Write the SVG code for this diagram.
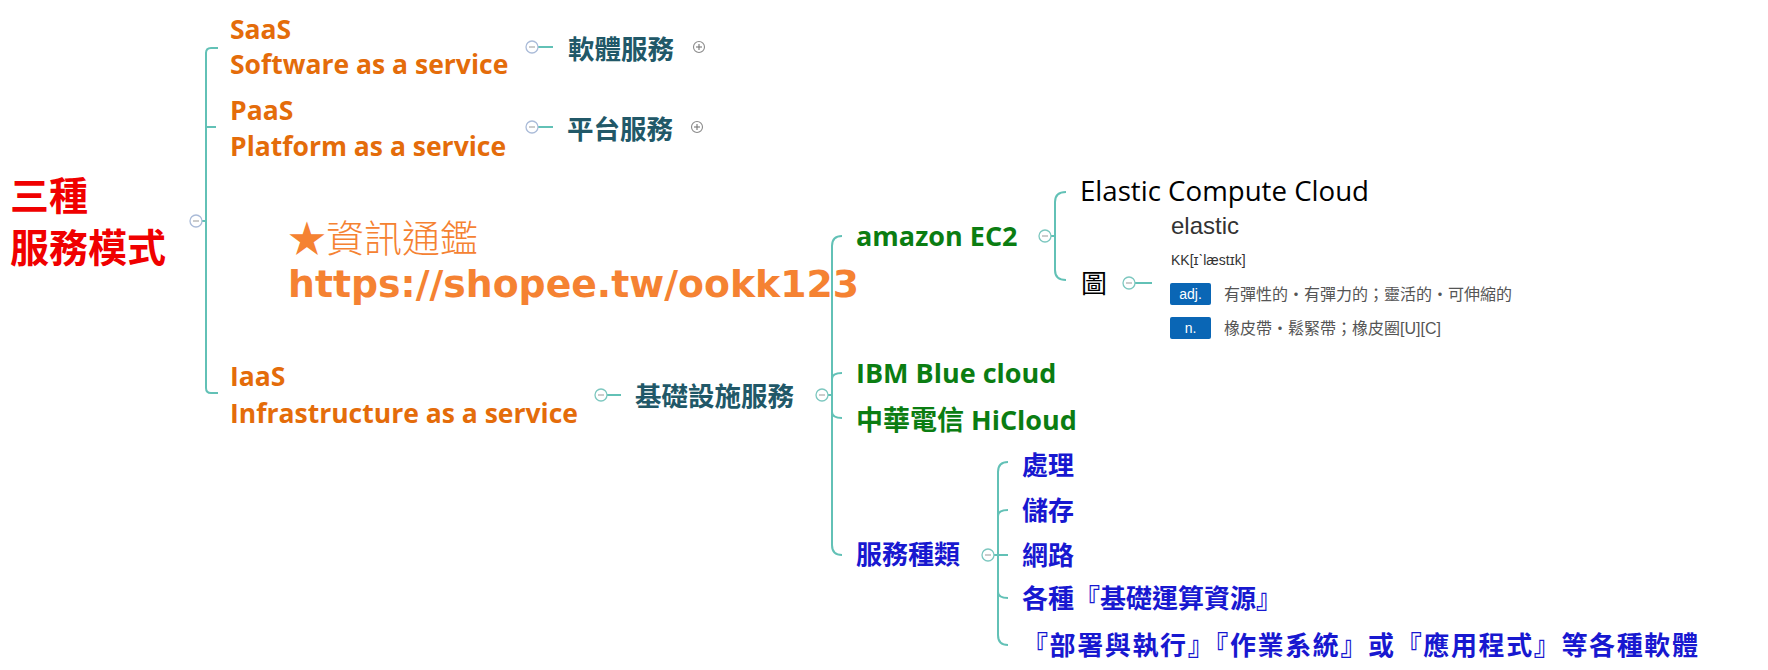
<svg xmlns="http://www.w3.org/2000/svg" width="1768" height="670" viewBox="0 0 1768 670">
<style>
.bg{fill:#ffffff}
.ln{fill:none;stroke:#62c1b6;stroke-width:2}
.cc{fill:#ffffff;stroke:#7cc7bf;stroke-width:1.3}
.cr{fill:#ffffff;stroke:#aabbd8;stroke-width:1.3}
.mn{stroke:#b0b0b0;stroke-width:1.3}
.pc{fill:#ffffff;stroke:#8a8a8a;stroke-width:1.1}
.pl{stroke:#777;stroke-width:1.1}
.root{font-family:"Noto Sans CJK TC",sans-serif;font-weight:700;font-size:39px;fill:#f00000}
.or{font-family:"Open Sans","Noto Sans CJK TC",sans-serif;font-weight:700;font-size:26.5px;fill:#e46c0a}
.tl{font-family:"Noto Sans CJK TC",sans-serif;font-weight:700;font-size:26.5px;fill:#215868}
.gr{font-family:"Open Sans","Noto Sans CJK TC",sans-serif;font-weight:700;font-size:27px;fill:#0b7d12}
.bl{font-family:"Noto Sans CJK TC",sans-serif;font-weight:700;font-size:26px;fill:#1818d0}
.bk{font-family:"Open Sans","Noto Sans CJK TC",sans-serif;font-size:27px;fill:#000}
.wm1{font-family:"Noto Sans CJK TC",sans-serif;font-weight:300;font-size:38px;fill:#f58232}
.wm2{font-family:"DejaVu Sans",sans-serif;font-weight:700;font-size:38px;fill:#f58232}
.d1{font-family:"Liberation Sans","Noto Sans CJK TC",sans-serif;fill:#333}
.d2{font-family:"Liberation Sans","Noto Sans CJK TC",sans-serif;font-size:16px;fill:#555}
.box{fill:#0a66b5}
.bt{font-family:"Liberation Sans",sans-serif;font-size:14px;fill:#fff;text-anchor:middle}
</style>
<rect class="bg" width="1768" height="670"/>
<g id="connectors">
  <path class="ln" d="M202,221 H206"/>
  <path class="ln" d="M218,48 H211 Q206,48 206,53 V388 Q206,393 211,393 H218"/>
  <path class="ln" d="M206,127 H216"/>
  <path class="ln" d="M538,47 H553"/>
  <path class="ln" d="M538,127 H553"/>
  <path class="ln" d="M607,395 H621"/>
  <path class="ln" d="M828,395 H832"/>
  <path class="ln" d="M842,236 Q832,236 832,246 V545 Q832,555 842,555"/>
  <path class="ln" d="M832,379 Q832,373 842,373"/>
  <path class="ln" d="M832,412 Q832,418 842,418"/>
  <path class="ln" d="M1051,236 H1055"/>
  <path class="ln" d="M1066,192 Q1055,192 1055,202 V270 Q1055,280 1066,280"/>
  <path class="ln" d="M1135,283 H1152"/>
  <path class="ln" d="M994,555 H998"/>
  <path class="ln" d="M1008,462 Q998,462 998,472 V635 Q998,645 1008,645"/>
  <path class="ln" d="M998,516 Q998,510 1008,510"/>
  <path class="ln" d="M998,555 H1008"/>
  <path class="ln" d="M998,592 Q998,598 1008,598"/>
</g>
<g id="root">
  <text class="root" x="10" y="210">三種</text>
  <text class="root" x="10" y="262">服務模式</text>
  <circle class="cr" cx="196" cy="221" r="6"/>
  <line class="mn" x1="193" y1="221" x2="199" y2="221"/>
</g>
<g id="saas">
  <text class="or" x="230" y="39">SaaS</text>
  <text class="or" x="230" y="74">Software as a service</text>
  <circle class="cr" cx="532" cy="47" r="6"/>
  <line class="mn" x1="529" y1="47" x2="535" y2="47"/>
</g>
<g id="saas-cn">
  <text class="tl" x="568" y="59">軟體服務</text>
  <circle class="pc" cx="699" cy="47" r="5.5"/>
  <line class="pl" x1="696" y1="47" x2="702" y2="47"/>
  <line class="pl" x1="699" y1="44" x2="699" y2="50"/>
</g>
<g id="paas">
  <text class="or" x="230" y="120">PaaS</text>
  <text class="or" x="230" y="156">Platform as a service</text>
  <circle class="cr" cx="532" cy="127" r="6"/>
  <line class="mn" x1="529" y1="127" x2="535" y2="127"/>
</g>
<g id="paas-cn">
  <text class="tl" x="567" y="139">平台服務</text>
  <circle class="pc" cx="697" cy="127" r="5.5"/>
  <line class="pl" x1="694" y1="127" x2="700" y2="127"/>
  <line class="pl" x1="697" y1="124" x2="697" y2="130"/>
</g>
<g id="iaas">
  <text class="or" x="230" y="386">IaaS</text>
  <text class="or" x="230" y="423">Infrastructure as a service</text>
  <circle class="cc" cx="601" cy="395" r="6"/>
  <line class="mn" x1="598" y1="395" x2="604" y2="395"/>
</g>
<g id="iaas-cn">
  <text class="tl" x="635" y="406">基礎設施服務</text>
  <circle class="cc" cx="822" cy="395" r="6"/>
  <line class="mn" x1="819" y1="395" x2="825" y2="395"/>
</g>
<g id="watermark">
  <text class="wm1" x="288" y="252">★資訊通鑑</text>
  <text class="wm2" x="288" y="297" textLength="571" lengthAdjust="spacingAndGlyphs">https://shopee.tw/ookk123</text>
</g>
<g id="amazon">
  <text class="gr" x="856" y="246">amazon EC2</text>
  <circle class="cc" cx="1045" cy="236" r="6"/>
  <line class="mn" x1="1042" y1="236" x2="1048" y2="236"/>
</g>
<g id="elastic">
  <text class="bk" x="1080" y="201" textLength="289" lengthAdjust="spacingAndGlyphs">Elastic Compute Cloud</text>
</g>
<g id="tu">
  <text class="bk" x="1081" y="293" style="font-size:26px">圖</text>
  <circle class="cc" cx="1129" cy="283" r="6"/>
  <line class="mn" x1="1126" y1="283" x2="1132" y2="283"/>
</g>
<g id="dictionary">
  <text class="d1" x="1171" y="234" style="font-size:24px">elastic</text>
  <text class="d1" x="1171" y="265" style="font-size:14px">KK[ɪˋlæstɪk]</text>
  <rect class="box" x="1170" y="283" width="41" height="22" rx="2"/>
  <text class="bt" x="1190.5" y="299">adj.</text>
  <text class="d2" x="1224" y="300">有彈性的・有彈力的；靈活的・可伸縮的</text>
  <rect class="box" x="1170" y="317" width="41" height="22" rx="2"/>
  <text class="bt" x="1190.5" y="333">n.</text>
  <text class="d2" x="1224" y="334">橡皮帶・鬆緊帶；橡皮圈[U][C]</text>
</g>
<g id="ibm">
  <text class="gr" x="856" y="383">IBM Blue cloud</text>
</g>
<g id="hicloud">
  <text class="gr" x="856" y="430">中華電信 HiCloud</text>
</g>
<g id="types">
  <text class="bl" x="856" y="564">服務種類</text>
  <circle class="cc" cx="988" cy="555" r="6"/>
  <line class="mn" x1="985" y1="555" x2="991" y2="555"/>
</g>
<g id="t1"><text class="bl" x="1022" y="475">處理</text></g>
<g id="t2"><text class="bl" x="1022" y="520">儲存</text></g>
<g id="t3"><text class="bl" x="1022" y="565">網路</text></g>
<g id="t4"><text class="bl" x="1022" y="608">各種『基礎運算資源』</text></g>
<g id="t5"><text class="bl" x="1022" y="655" textLength="676" lengthAdjust="spacing">『部署與執行』『作業系統』或『應用程式』等各種軟體</text></g>
</svg>
